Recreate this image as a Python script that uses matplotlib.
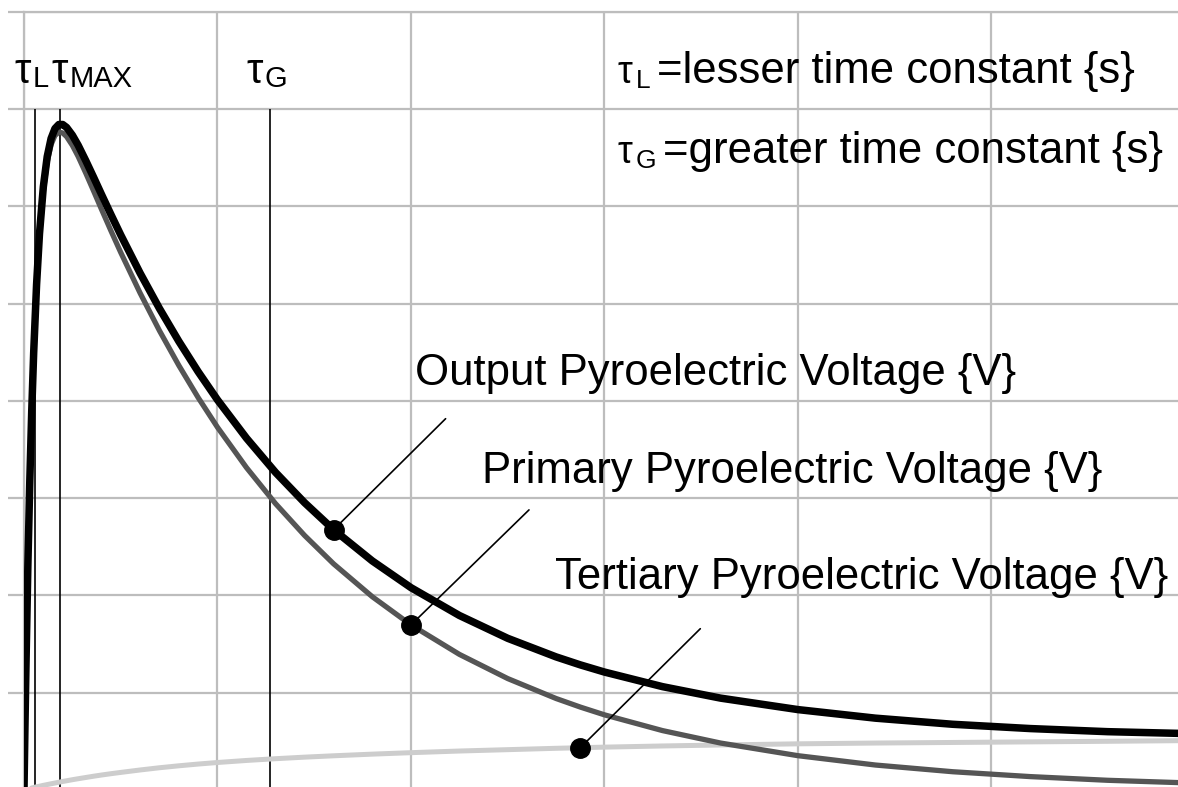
import matplotlib
matplotlib.use('Agg')
import matplotlib.pyplot as plt

plt.rcParams['font.family'] = ['Liberation Sans', 'DejaVu Sans']

# time axis (grid units) and the three voltage traces read at those times
t = [0, 0.005, 0.01, 0.02, 0.03, 0.04, 0.05, 0.065, 0.08, 0.1, 0.12, 0.14,
     0.16, 0.18, 0.2, 0.22, 0.25, 0.28, 0.32, 0.36, 0.4, 0.45, 0.5, 0.6, 0.7,
     0.8, 0.9, 1.0, 1.15, 1.3, 1.45, 1.6, 1.8, 2.0, 2.25, 2.5, 2.75, 2.875,
     3.0, 3.3, 3.6, 4.0, 4.4, 4.8, 5.2, 5.6, 6.0]

primary = [0, 0.656, 1.255, 2.298, 3.163, 3.879, 4.470, 5.166, 5.681, 6.157,
           6.458, 6.636, 6.730, 6.764, 6.756, 6.719, 6.628, 6.514, 6.340,
           6.158, 5.973, 5.747, 5.527, 5.110, 4.723, 4.366, 4.035, 3.729,
           3.314, 2.944, 2.617, 2.325, 1.987, 1.697, 1.394, 1.145, 0.940,
           0.852, 0.772, 0.610, 0.482, 0.352, 0.256, 0.187, 0.137, 0.099, 0.073]

tertiary = [0, 0.003, 0.005, 0.01, 0.015, 0.02, 0.025, 0.032, 0.038, 0.047,
            0.055, 0.063, 0.071, 0.079, 0.087, 0.094, 0.105, 0.115, 0.128,
            0.141, 0.153, 0.167, 0.18, 0.205, 0.228, 0.248, 0.266, 0.282,
            0.303, 0.321, 0.337, 0.351, 0.368, 0.383, 0.4, 0.414, 0.428,
            0.434, 0.44, 0.452, 0.462, 0.474, 0.482, 0.488, 0.494, 0.5, 0.507]

output = [0, 0.659, 1.260, 2.308, 3.178, 3.899, 4.495, 5.198, 5.719, 6.204,
          6.513, 6.699, 6.801, 6.843, 6.843, 6.813, 6.733, 6.629, 6.468,
          6.299, 6.126, 5.914, 5.707, 5.315, 4.951, 4.614, 4.301, 4.011,
          3.617, 3.265, 2.954, 2.676, 2.355, 2.080, 1.794, 1.559, 1.368,
          1.286, 1.212, 1.062, 0.944, 0.826, 0.738, 0.675, 0.631, 0.599, 0.580]

# tau_L, t_max, tau_G
tau_marks = [0.057, 0.186, 1.27]

# where the callout dots sit (index into t)
dot_output = 31
dot_primary = 33
dot_tertiary = 37

W, H = 1178, 787
fig = plt.figure(figsize=(W / 100, H / 100), dpi=100)
ax = fig.add_axes([24 / W, 0, 1 - 24 / W, 775 / H])
ax.set_xlim(0, 5.964)
ax.set_ylim(0.03, 8)

grid_c = '#bdbdbd'
ax.set_xticks(range(0, 6))
ax.set_yticks(range(1, 9))
ax.grid(color=grid_c, lw=1.6)
ax.tick_params(axis='x', length=0, labelbottom=False)
ax.tick_params(axis='y', direction='out', length=11.5, width=1.6,
               color=grid_c, labelleft=False)
for side in ['right', 'bottom']:
    ax.spines[side].set_visible(False)
for side in ['left', 'top']:
    ax.spines[side].set_color(grid_c)
    ax.spines[side].set_linewidth(1.6)
ax.set_axisbelow(True)

ax.vlines(tau_marks, 0, 7, colors='black', lw=1.2, zorder=2)

ax.plot(t, tertiary, color='#cdcdcd', lw=3.6, zorder=3,
        solid_capstyle='round', solid_joinstyle='round')
ax.plot(t, primary, color='#555555', lw=3.8, zorder=4,
        solid_capstyle='round', solid_joinstyle='round')
ax.plot(t, output, color='black', lw=5.4, zorder=5,
        solid_capstyle='round', solid_joinstyle='round')

# callout dots with leader lines
for series, i, off in [(output, dot_output, (112, 111)),
                       (primary, dot_primary, (118, 115)),
                       (tertiary, dot_tertiary, (120, 119))]:
    ax.plot(t[i], series[i], 'o', color='black', ms=14, zorder=6)
    ax.annotate('', xy=(t[i], series[i]), xytext=off, textcoords='offset pixels',
                arrowprops=dict(arrowstyle='-', color='black', lw=1.2,
                                shrinkA=0, shrinkB=0), zorder=6)


def put(px, py, s, size):
    fig.text(px / W, 1 - py / H, s, fontsize=size, va='baseline', ha='left')


# symbols over the marker lines
put(14, 83, 'τ', 30)
put(33, 87, 'L', 21)
put(51, 83, 'τ', 30)
put(70, 87, 'MAX', 21)
put(246, 83, 'τ', 30)
put(265, 87, 'G', 21)

# key for the time constants
put(618, 83, 'τ', 27)
put(636, 88, 'L', 19)
put(657, 83, '=lesser time constant {s}', 31.5)
put(618, 163, 'τ', 27)
put(636, 168, 'G', 19)
put(663, 163, '=greater time constant {s}', 31.5)

# curve labels
put(415, 385, 'Output Pyroelectric Voltage {V}', 31.5)
put(482, 483, 'Primary Pyroelectric Voltage {V}', 31.5)
put(555, 589, 'Tertiary Pyroelectric Voltage {V}', 31.5)

fig.savefig('out.png', dpi=100)
